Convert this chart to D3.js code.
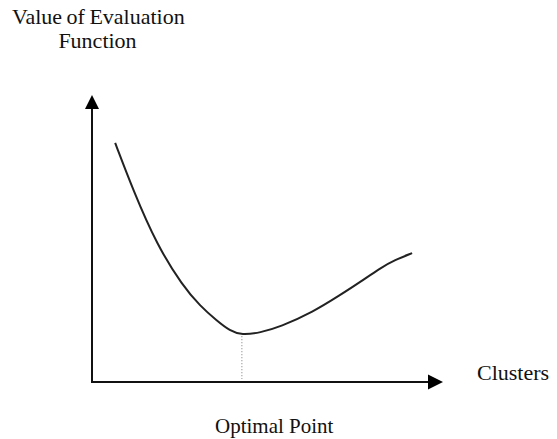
<!DOCTYPE html>
<html>
<head>
<meta charset="utf-8">
<script src="https://cdn.jsdelivr.net/npm/d3@7"></script>
<style>
  body { margin: 0; background: #fff; }
  text { font-family: "Liberation Serif", "Times New Roman", serif; fill: #111; }
</style>
</head>
<body>
<svg id="drawing"></svg>
<script>
// curve (x = clusters, y = value of evaluation function)
const clusters = [0.66, 1.17, 1.85, 2.59, 3.08, 3.56, 3.93, 4.27, 4.79, 5.36, 6.30, 7.07, 7.64, 8.21, 8.63, 9.12];
const values   = [8.33, 6.69, 4.77, 3.34, 2.65, 2.13, 1.78, 1.63, 1.72, 1.92, 2.44, 3.03, 3.48, 3.97, 4.25, 4.49];
const optimal = 4.27;
const labels = {
    y1: "Value of Evaluation",
    y2: "Function",
    x: "Clusters",
    opt: "Optimal Point"
};

const config = {
    width: 557,
    height: 439,
    xrange: [92, 443],
    yrange: [382, 95]
};

const svg = d3.select('#drawing')
    .attr('width', config.width)
    .attr('height', config.height);

const xscale = d3.scaleLinear().domain([0, 10]).range(config.xrange);
const yscale = d3.scaleLinear().domain([0, 10]).range(config.yrange);

const data = clusters.map((c, i) => ({x: c, y: values[i]}));

// axes
const x0 = xscale(0), y0 = yscale(0);
const xend = xscale(10), yend = yscale(10);

svg.append('line')
    .attr('x1', x0 - 1).attr('y1', y0)
    .attr('x2', xend - 10).attr('y2', y0)
    .attr('stroke', '#111').attr('stroke-width', 2);
svg.append('line')
    .attr('x1', x0).attr('y1', y0 + 1)
    .attr('x2', x0).attr('y2', yend + 10)
    .attr('stroke', '#111').attr('stroke-width', 2);

// arrow heads
svg.append('path')
    .attr('d', `M${xend},${y0} L${xend - 15},${y0 - 7.5} L${xend - 15},${y0 + 7.5} Z`)
    .attr('fill', '#000');
svg.append('path')
    .attr('d', `M${x0},${yend} L${x0 - 7},${yend + 14} L${x0 + 7},${yend + 14} Z`)
    .attr('fill', '#000');

// dotted line to the optimum
const optY = values[clusters.indexOf(optimal)];
svg.append('line')
    .attr('x1', xscale(optimal)).attr('y1', yscale(optY) + 1)
    .attr('x2', xscale(optimal)).attr('y2', y0 - 3)
    .attr('stroke', '#777').attr('stroke-width', 1)
    .attr('stroke-dasharray', '1,2');

// curve
const line = d3.line()
    .x(d => xscale(d.x))
    .y(d => yscale(d.y))
    .curve(d3.curveBasis);

svg.append('path')
    .datum(data)
    .attr('d', line)
    .attr('fill', 'none')
    .attr('stroke', '#222')
    .attr('stroke-width', 2);

// labels
svg.append('text')
    .attr('x', 12).attr('y', 24)
    .attr('font-size', '22px')
    .attr('word-spacing', '-1px')
    .text(labels.y1);
svg.append('text')
    .attr('x', 97.5).attr('y', 48)
    .attr('font-size', '22px')
    .attr('text-anchor', 'middle')
    .text(labels.y2);
svg.append('text')
    .attr('x', 477).attr('y', 380)
    .attr('font-size', '22px')
    .text(labels.x);
svg.append('text')
    .attr('x', 215).attr('y', 433)
    .attr('font-size', '21px')
    .text(labels.opt);
</script>
</body>
</html>
